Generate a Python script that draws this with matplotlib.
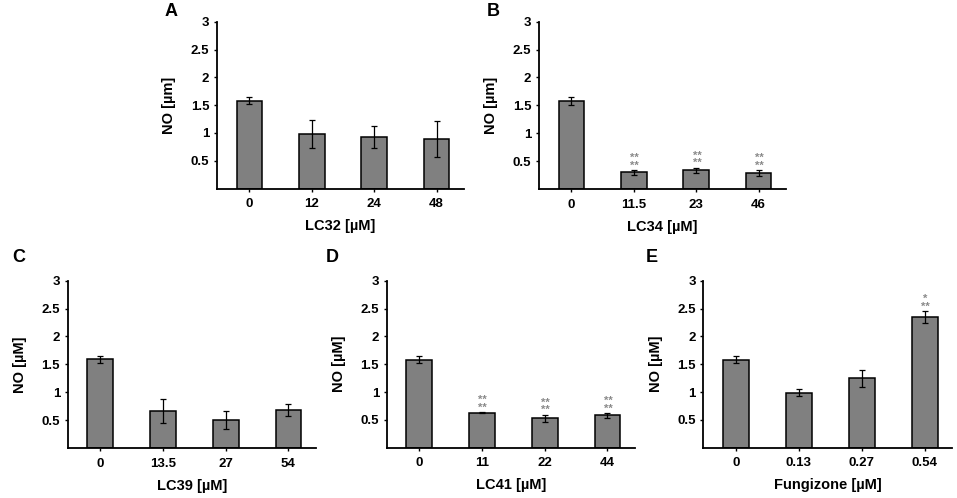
import matplotlib
matplotlib.use("Agg")
import matplotlib.pyplot as plt

plt.rcParams['font.family'] = ['Liberation Sans', 'DejaVu Sans']
plt.rcParams['font.weight'] = 'bold'

# ---- data ----
cats_A = ['0', '12', '24', '48']
vals_A = [1.58, 0.98, 0.93, 0.89]
err_A = [0.065, 0.26, 0.20, 0.33]
stars_A = [[], [], [], []]

cats_B = ['0', '11.5', '23', '46']
vals_B = [1.58, 0.30, 0.34, 0.28]
err_B = [0.065, 0.04, 0.045, 0.055]
stars_B = [[], ['**', '**'], ['**', '**'], ['**', '**']]

cats_C = ['0', '13.5', '27', '54']
vals_C = [1.59, 0.66, 0.50, 0.68]
err_C = [0.065, 0.21, 0.16, 0.105]
stars_C = [[], [], [], []]

cats_D = ['0', '11', '22', '44']
vals_D = [1.58, 0.63, 0.53, 0.58]
err_D = [0.065, 0.015, 0.063, 0.045]
stars_D = [[], ['**', '**'], ['**', '**'], ['**', '**']]

cats_E = ['0', '0.13', '0.27', '0.54']
vals_E = [1.58, 0.99, 1.245, 2.345]
err_E = [0.063, 0.066, 0.146, 0.11]
stars_E = [[], [], [], ['**', '*']]  # bottom row first

yticks = [0.5, 1, 1.5, 2, 2.5, 3]
ytick_labels = ['0.5', '1', '1.5', '2', '2.5', '3']

W, H = 957, 498
fig = plt.figure(figsize=(W / 100, H / 100), dpi=100)

panels = [
    ('A', cats_A, vals_A, err_A, stars_A, 'LC32 [µM]', 'NO [µm]', (217, 464, 21.7, 188.5), (171.5, 12)),
    ('B', cats_B, vals_B, err_B, stars_B, 'LC34 [µM]', 'NO [µm]', (539, 786, 21.7, 189.0), (493, 12)),
    ('C', cats_C, vals_C, err_C, stars_C, 'LC39 [µM]', 'NO [µM]', (67.7, 316, 280.7, 448.0), (19, 257)),
    ('D', cats_D, vals_D, err_D, stars_D, 'LC41 [µM]', 'NO [µM]', (386.7, 635, 280.7, 447.7), (332, 257)),
    ('E', cats_E, vals_E, err_E, stars_E, 'Fungizone [µM]', 'NO [µM]', (703.3, 952.3, 280.7, 447.7), (652, 257)),
]

STAR_FS = 8

for letter, cats, vals, errs, stars, xlab, ylab, (l, r, t, b), (lx, ly) in panels:
    aw, ah = r - l, b - t
    ax = fig.add_axes([l / W, (H - b) / H, aw / W, ah / H])
    x = list(range(len(cats)))
    ax.bar(x, vals, width=0.41, color='#808080', edgecolor='black', linewidth=1.1, zorder=2)
    ax.errorbar(x, vals, yerr=errs, fmt='none', ecolor='black', elinewidth=0.9,
                capsize=2.0, capthick=0.9, zorder=3)
    for xi, v, e, st in zip(x, vals, errs, stars):
        if not st:
            continue
        label = '\n'.join(reversed(st))
        ybottom = v + e + 0.14
        ax.annotate(label, xy=(xi, ybottom), xytext=(0.5, -0.58 * STAR_FS), textcoords='offset points',
                    ha='center', va='baseline', multialignment='center', linespacing=0.72,
                    fontsize=STAR_FS, color='#8a8a8a', fontweight='bold')
    ax.set_xlim(-0.52, 3.44)
    ax.set_ylim(0, 3)
    ax.set_yticks(yticks)
    ax.set_yticklabels(ytick_labels)
    ax.set_xticks(x)
    ax.set_xticklabels(cats)
    for sp in ['top', 'right']:
        ax.spines[sp].set_visible(False)
    for sp in ['left', 'bottom']:
        ax.spines[sp].set_linewidth(1.3)
    ax.tick_params(axis='both', direction='out', length=2.5, width=1.0, labelsize=9.5)
    ax.tick_params(axis='y', pad=3)
    ax.tick_params(axis='x', pad=4.5)
    for lab in ax.get_xticklabels() + ax.get_yticklabels():
        lab.set_fontweight('bold')
    ax.set_xlabel(xlab, fontsize=10.5, fontweight='bold', va='top')
    ax.xaxis.set_label_coords(0.5, -30.5 / ah)
    ax.set_ylabel(ylab, fontsize=10.5, fontweight='bold', va='bottom')
    ax.yaxis.set_label_coords(-40.5 / aw, 0.5)
    fig.text(lx / W, 1 - ly / H, letter, fontsize=13, fontweight='bold', ha='center', va='center')

fig.savefig('out.png', dpi=100)
